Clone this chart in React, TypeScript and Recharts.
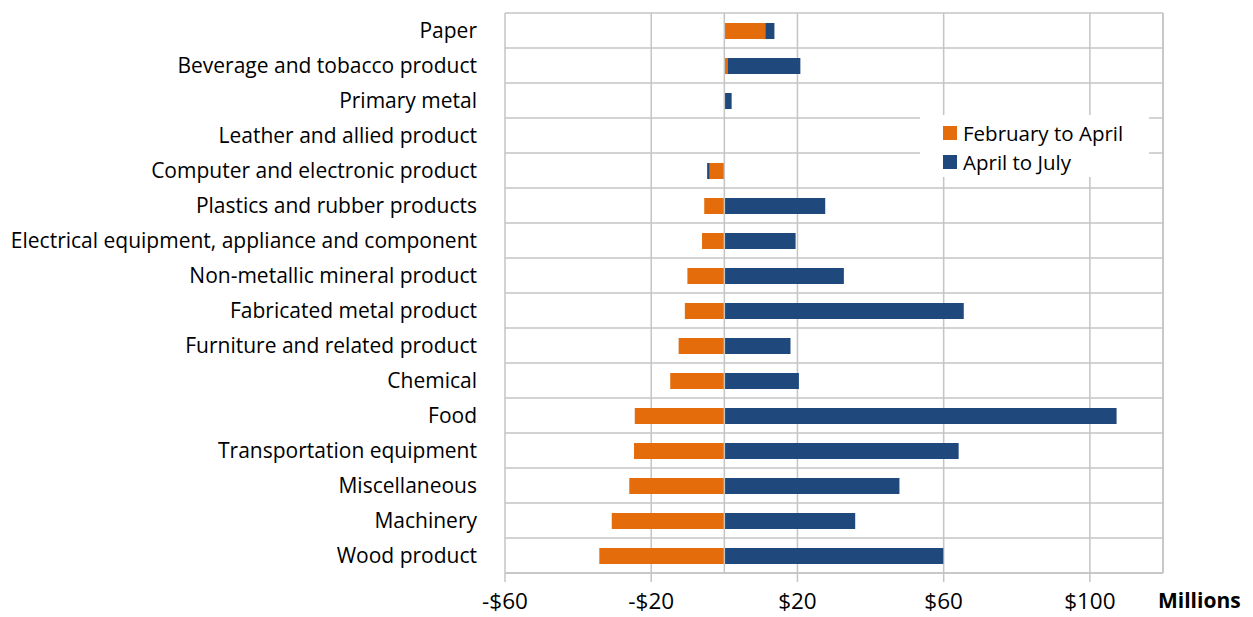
import React from 'react';
import {
  BarChart,
  Bar,
  XAxis,
  YAxis,
  CartesianGrid,
  ReferenceLine,
  Legend,
} from 'recharts';

const categories = [
  'Paper',
  'Beverage and tobacco product',
  'Primary metal',
  'Leather and allied product',
  'Computer and electronic product',
  'Plastics and rubber products',
  'Electrical equipment, appliance and component',
  'Non-metallic mineral product',
  'Fabricated metal product',
  'Furniture and related product',
  'Chemical',
  'Food',
  'Transportation equipment',
  'Miscellaneous',
  'Machinery',
  'Wood product',
];

const febToApril = [11.2, 1.0, 0, 0, -4.0, -5.5, -6.1, -10.1, -10.8, -12.5, -14.8, -24.5, -24.7, -26.0, -30.8, -34.2];
const aprilToJuly = [2.5, 19.8, 2.0, 0, -0.7, 27.6, 19.5, 32.7, 65.5, 18.1, 20.4, 107.3, 64.1, 47.9, 35.8, 59.9];

const seriesNames = ['February to April', 'April to July'];
const xTicks = [-60, -20, 20, 60, 100];

const ORANGE = '#E46C0A';
const BLUE = '#1F497D';
const GRID = '#C4C4C4';
const FONT = '"Open Sans", sans-serif';

const data = categories.map((name, i) => ({
  name,
  feb: febToApril[i],
  apr: aprilToJuly[i],
}));

const formatMoney = (v: number) => (v < 0 ? `-$${Math.abs(v)}` : `$${v}`);

const LegendBox = (props: any) => {
  const items = [...(props.payload || [])].sort(
    (a: any, b: any) => seriesNames.indexOf(a.value) - seriesNames.indexOf(b.value)
  );
  return (
    <div
      style={{
        background: '#fff',
        width: 229,
        height: 62,
        paddingTop: 3,
        boxSizing: 'border-box',
        fontFamily: FONT,
        fontSize: 20.5,
        color: '#000',
      }}
    >
      {items.map((p: any) => (
        <div key={p.value} style={{ display: 'flex', alignItems: 'center', height: 29, paddingLeft: 23 }}>
          <span style={{ width: 14, height: 14, background: p.color, display: 'inline-block', marginRight: 6 }} />
          <span>{p.value}</span>
        </div>
      ))}
    </div>
  );
};

export default function App() {
  return (
    <div style={{ position: 'absolute', left: 0, top: 0, background: '#fff' }}>
      <BarChart
        width={1253}
        height={617}
        data={data}
        layout="vertical"
        stackOffset="sign"
        margin={{ top: 13, right: 90, bottom: 0, left: 0 }}
        barSize={16}
      >
        <CartesianGrid
          stroke={GRID}
          strokeWidth={1.5}
          horizontalCoordinatesGenerator={({ offset }: any) =>
            categories.map((_, i) => offset.top + (i * offset.height) / categories.length).concat(offset.top + offset.height)
          }
        />
        <XAxis
          type="number"
          domain={[-60, 120]}
          ticks={xTicks}
          tickFormatter={formatMoney}
          height={44}
          tickSize={9}
          tickMargin={11}
          stroke={GRID}
          axisLine={{ stroke: GRID, strokeWidth: 1.5 }}
          tickLine={{ stroke: GRID, strokeWidth: 1.5 }}
          tick={{ fill: '#000', fontSize: 22.5, fontFamily: FONT }}
          label={{
            value: 'Millions',
            position: 'right',
            offset: -5,
            dy: 6,
            style: { fontWeight: 700, fontSize: 21, fontFamily: FONT, fill: '#000' },
          }}
        />
        <YAxis
          type="category"
          dataKey="name"
          width={505}
          axisLine={false}
          tickLine={false}
          tickSize={0}
          tickMargin={28}
          interval={0}
          tick={{ fill: '#000', fontSize: 21, fontFamily: FONT }}
        />
        <ReferenceLine x={0} stroke={GRID} strokeWidth={1.5} />
        <ReferenceLine x={120} stroke={GRID} strokeWidth={1.5} />
        <Legend
          layout="vertical"
          align="center"
          verticalAlign="middle"
          content={<LegendBox />}
          wrapperStyle={{ left: 920, top: 115, width: 229 }}
        />
        <Bar dataKey="feb" name={seriesNames[0]} stackId="s" fill={ORANGE} isAnimationActive={false} />
        <Bar dataKey="apr" name={seriesNames[1]} stackId="s" fill={BLUE} isAnimationActive={false} />
      </BarChart>
    </div>
  );
}
